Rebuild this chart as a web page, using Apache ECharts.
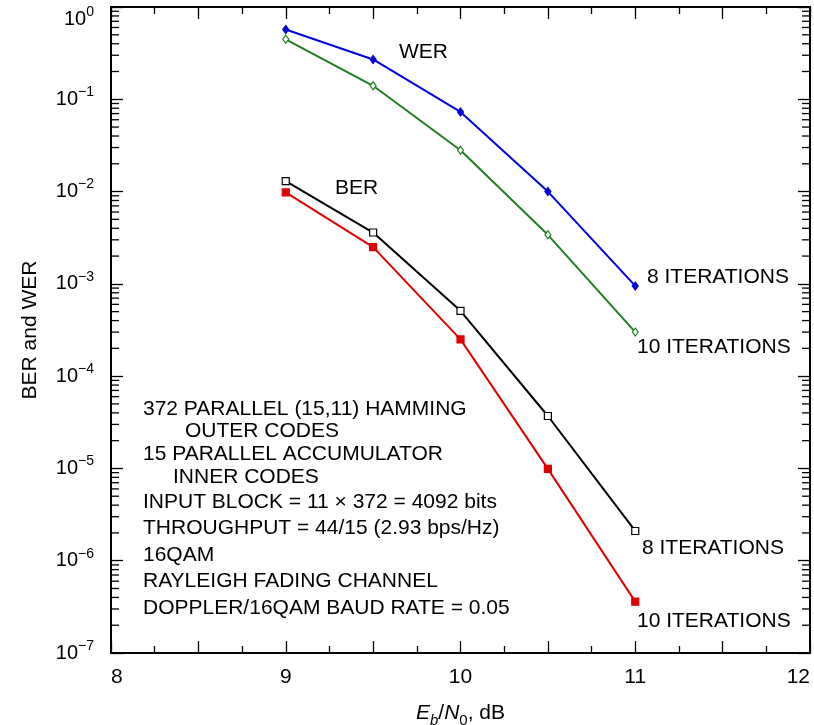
<!DOCTYPE html>
<html>

<head>
    <meta charset="utf-8">
    <script src="https://cdn.jsdelivr.net/npm/echarts@6.0.0/dist/echarts.min.js"></script>
</head>

<body style="margin:0">
    <div id="main" style="width: 814px;height:725px;"></div>
    <script type="text/javascript">
        // Eb/N0 points (dB)
        var ebn0 = [9, 9.5, 10, 10.5, 11];
        // word error rate
        var werIt8 = [0.57, 0.27, 0.073, 0.0100, 0.00095];
        var werIt10 = [0.447, 0.14, 0.028, 0.0034, 0.00030];
        // bit error rate
        var berIt8 = [0.0130, 0.0036, 5.1e-4, 3.7e-5, 2.1e-6];
        var berIt10 = [0.0098, 0.0025, 2.5e-4, 9.9e-6, 3.6e-7];
        // y tick exponents and x tick labels
        var yExps = [0, -1, -2, -3, -4, -5, -6, -7];
        var xLabels = [8, 9, 10, 11, 12];

        var FONT = '"Liberation Sans", Arial, sans-serif';

        function pairs(ys) {
            return ebn0.map(function (x, i) { return [x, ys[i]]; });
        }

        // minor ticks of the log axis (2..9 in each decade)
        var minorVals = [];
        for (var e = -7; e < 0; e++) {
            for (var k = 2; k <= 9; k++) minorVals.push([8, k * Math.pow(10, e)]);
        }

        var myChart = echarts.init(document.getElementById('main'));

        var xCommon = {
            type: 'value', min: 8, max: 12, interval: 0.5,
            axisLine: { lineStyle: { color: '#000', width: 2 } },
            axisTick: { inside: true, length: 12, lineStyle: { color: '#000', width: 1.3 } },
            minorTick: { show: true, splitNumber: 2, length: 7, lineStyle: { color: '#000', width: 1.3 } },
            splitLine: { show: false }
        };
        var yCommon = {
            type: 'log', logBase: 10, min: 1e-7, max: 1,
            axisLine: { lineStyle: { color: '#000', width: 2 } },
            axisTick: { inside: true, length: 12, lineStyle: { color: '#000', width: 1.3 } },
            splitLine: { show: false }
        };

        function line(name, ys, color, symbol, size, fill) {
            return {
                name: name, type: 'line', data: pairs(ys),
                xAxisIndex: 0, yAxisIndex: 0,
                lineStyle: { color: color, width: 2 },
                symbol: symbol, symbolSize: size, showAllSymbol: true,
                itemStyle: { color: fill, borderColor: color, borderWidth: 1.2 },
                z: 3
            };
        }

        function note(text, x, y) {
            return {
                type: 'text', x: x, y: y, silent: true,
                style: { text: text, font: '21px ' + FONT, fill: '#000', verticalAlign: 'middle' }
            };
        }

        option = {
            animation: false,
            grid: { left: 111, right: 4, top: 7, bottom: 72, outerBoundsMode: 'none' },
            xAxis: [
                Object.assign({}, xCommon, {
                    position: 'bottom',
                    axisLabel: {
                        fontSize: 21, fontFamily: FONT, color: '#000', margin: 14,
                        alignMinLabel: 'left', alignMaxLabel: 'right',
                        formatter: function (v) { return xLabels.indexOf(v) >= 0 ? String(v) : ''; }
                    },
                    name: '{i|E}{sb|b}{n|/}{i|N}{s0|0}{n|, dB}',
                    nameLocation: 'middle', nameGap: 45,
                    nameTextStyle: {
                        rich: {
                            i: { fontSize: 21, fontFamily: FONT, fontStyle: 'italic', color: '#000', lineHeight: 30 },
                            n: { fontSize: 21, fontFamily: FONT, color: '#000', lineHeight: 30 },
                            sb: { fontSize: 15, fontFamily: FONT, fontStyle: 'italic', color: '#000', verticalAlign: 'bottom', lineHeight: 15 },
                            s0: { fontSize: 15, fontFamily: FONT, color: '#000', verticalAlign: 'bottom', lineHeight: 15 }
                        }
                    }
                }),
                Object.assign({}, xCommon, { position: 'top', axisLabel: { show: false } })
            ],
            yAxis: [
                Object.assign({}, yCommon, {
                    position: 'left',
                    axisLabel: {
                        margin: 17, lineHeight: 24,
                        formatter: function (v) {
                            var ex = Math.round(Math.log(v) / Math.LN10);
                            // top label sits a little below its tick, as in the source figure
                            if (ex === 0) return '\n{b|10}{s|0}';
                            return '{b|10}{s|\u2212' + (-ex) + '}';
                        },
                        rich: {
                            b: { fontSize: 20, fontFamily: FONT, color: '#000', lineHeight: 28 },
                            s: { fontSize: 14, fontFamily: FONT, color: '#000', lineHeight: 14, verticalAlign: 'top' }
                        }
                    },
                    name: 'BER and WER', nameLocation: 'middle', nameRotate: 90, nameGap: 70,
                    nameTextStyle: { fontSize: 21, fontFamily: FONT, color: '#000' }
                }),
                Object.assign({}, yCommon, { position: 'right', axisLabel: { show: false } })
            ],
            series: [
                line('WER 8 iterations', werIt8, '#0000dd', 'diamond', [6, 8], '#0000dd'),
                line('WER 10 iterations', werIt10, '#1f7f1f', 'diamond', [6, 8], '#ffffff'),
                line('BER 8 iterations', berIt8, '#000000', 'rect', 7, '#ffffff'),
                line('BER 10 iterations', berIt10, '#dd0000', 'rect', 7, '#dd0000'),
                {
                    // log-scale minor ticks on left and right edges
                    type: 'custom', silent: true, clip: false, z: 1,
                    data: minorVals,
                    renderItem: function (params, api) {
                        var a = api.coord([8, api.value(1)]);
                        var b = api.coord([12, api.value(1)]);
                        var st = { stroke: '#000', lineWidth: 1.3 };
                        return {
                            type: 'group', children: [
                                { type: 'line', shape: { x1: a[0], y1: a[1], x2: a[0] + 8, y2: a[1] }, style: st },
                                { type: 'line', shape: { x1: b[0] - 8, y1: b[1], x2: b[0], y2: b[1] }, style: st }
                            ]
                        };
                    }
                }
            ],
            graphic: [
                note('WER', 399, 52),
                note('BER', 335, 188),
                note('8 ITERATIONS', 647, 277),
                note('10 ITERATIONS', 637, 347),
                note('8 ITERATIONS', 642, 548),
                note('10 ITERATIONS', 637, 621),
                note('372 PARALLEL (15,11) HAMMING', 143, 409),
                note('OUTER CODES', 185, 431),
                note('15 PARALLEL ACCUMULATOR', 143, 454),
                note('INNER CODES', 173, 477),
                note('INPUT BLOCK = 11 \u00d7 372 = 4092 bits', 143, 502),
                note('THROUGHPUT = 44/15 (2.93 bps/Hz)', 143, 528),
                note('16QAM', 143, 555),
                note('RAYLEIGH FADING CHANNEL', 143, 581),
                note('DOPPLER/16QAM BAUD RATE = 0.05', 143, 608)
            ]
        };
        myChart.setOption(option);
    </script>
</body>

</html>
